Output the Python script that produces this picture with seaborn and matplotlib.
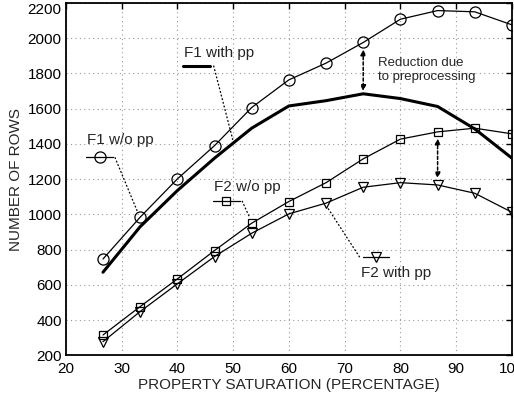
import numpy as np
import pandas as pd
import matplotlib
matplotlib.use("Agg")
import matplotlib.pyplot as plt
import seaborn as sns

# ============================================
# DATA
# ============================================
saturation = [26.67, 33.33, 40.0, 46.67, 53.33, 60.0, 66.67, 73.33, 80.0, 86.67, 93.33, 100.0]

f1_wo_pp = [747, 984, 1201, 1390, 1606, 1763, 1858, 1975, 2107, 2156, 2149, 2075]
f1_with_pp = [672, 930, 1135, 1319, 1489, 1615, 1645, 1684, 1657, 1612, 1485, 1319]
f2_wo_pp = [316, 477, 634, 795, 950, 1073, 1180, 1315, 1427, 1468, 1489, 1457]
f2_with_pp = [278, 449, 606, 761, 893, 1003, 1064, 1154, 1180, 1167, 1120, 1012]

x_ticks = [20, 30, 40, 50, 60, 70, 80, 90, 100]
y_ticks = [200, 400, 600, 800, 1000, 1200, 1400, 1600, 1800, 2000, 2200]

df = pd.DataFrame({
    "sat": saturation,
    "f1_wo": f1_wo_pp,
    "f1_with": f1_with_pp,
    "f2_wo": f2_wo_pp,
    "f2_with": f2_with_pp,
})

# ============================================
# STYLE
# ============================================
sns.set_style("white")
plt.rcParams["font.family"] = ["Liberation Sans", "DejaVu Sans"]

fig = plt.figure(figsize=(5.14, 4.03), dpi=100)
ax = fig.add_axes([0.128, 0.118, 0.868, 0.875])

thin = dict(color="black", linewidth=0.9, mfc="none", mec="black", mew=0.9)

sns.lineplot(data=df, x="sat", y="f1_wo", marker="o", markersize=8, ax=ax, **thin)
sns.lineplot(data=df, x="sat", y="f1_with", color="black", linewidth=2.2, ax=ax)
sns.lineplot(data=df, x="sat", y="f2_wo", marker="s", markersize=6, ax=ax, **thin)
sns.lineplot(data=df, x="sat", y="f2_with", marker="v", markersize=7, ax=ax, **thin)

# ============================================
# AXES
# ============================================
ax.set_xlim(20, 100)
ax.set_ylim(200, 2200)
ax.set_xticks(x_ticks)
ax.set_yticks(y_ticks)
ax.grid(True, color="#999999", linestyle=(0, (1, 3)), linewidth=0.8)
ax.tick_params(direction="in", length=4, width=1, labelsize=11, colors="black",
               top=True, right=True)
ax.tick_params(axis="x", pad=5)
ax.tick_params(axis="y", pad=3)
for s in ax.spines.values():
    s.set_color("black")
    s.set_linewidth(1.3)

ax.set_xlabel("PROPERTY SATURATION (PERCENTAGE)", fontsize=11, labelpad=1)
ax.set_ylabel("NUMBER OF ROWS", fontsize=11, labelpad=3)

fig.canvas.draw()
ax.get_yticklabels()[-1].set_va("top")

# ============================================
# ANNOTATIONS
# ============================================
dot = dict(color="black", linestyle=(0, (1.5, 1.5)), linewidth=0.9)

# F1 w/o pp
ax.text(23.8, 1423, "F1 w/o pp", fontsize=11, va="center", ha="left")
ax.plot([23.7, 28.5], [1324, 1324], color="black", linewidth=0.9)
ax.plot([26.1], [1324], marker="o", markersize=8, mfc="none", mec="black", mew=0.9)
ax.plot([28.8, 32.9], [1324, 1012], **dot)

# F1 with pp
ax.text(41.2, 1916, "F1 with pp", fontsize=11, va="center", ha="left")
ax.plot([41.0, 45.8], [1844, 1844], color="black", linewidth=2.2)
ax.plot([46.5, 49.95], [1844, 1423], **dot)

# F2 w/o pp
ax.text(46.5, 1158, "F2 w/o pp", fontsize=11, va="center", ha="left")
ax.plot([46.4, 51.2], [1077, 1077], color="black", linewidth=0.9)
ax.plot([48.8], [1077], marker="s", markersize=6, mfc="none", mec="black", mew=0.9)
ax.plot([51.6, 53.0], [1077, 980], **dot)

# F2 with pp
ax.text(72.9, 668, "F2 with pp", fontsize=11, va="center", ha="left")
ax.plot([73.3, 77.9], [757, 757], color="black", linewidth=0.9)
ax.plot([75.55], [757], marker="v", markersize=7, mfc="none", mec="black", mew=0.9)
ax.plot([72.7, 66.9], [757, 1040], **dot)

# reduction arrows
ax.text(75.9, 1821, "Reduction due\nto preprocessing", fontsize=9.5,
        va="center", ha="left", linespacing=1.25)
for xa, y0, y1 in [(73.33, 1700, 1935), (86.67, 1205, 1430)]:
    ax.annotate("", xy=(xa, y0), xytext=(xa, y1),
                arrowprops=dict(arrowstyle="<|-|>", color="black", lw=1.1,
                                linestyle=(0, (2, 1.5)), mutation_scale=8,
                                shrinkA=0, shrinkB=0))

ax.set_xlim(20, 100)
ax.set_ylim(200, 2200)

plt.savefig("out.png", dpi=100)
